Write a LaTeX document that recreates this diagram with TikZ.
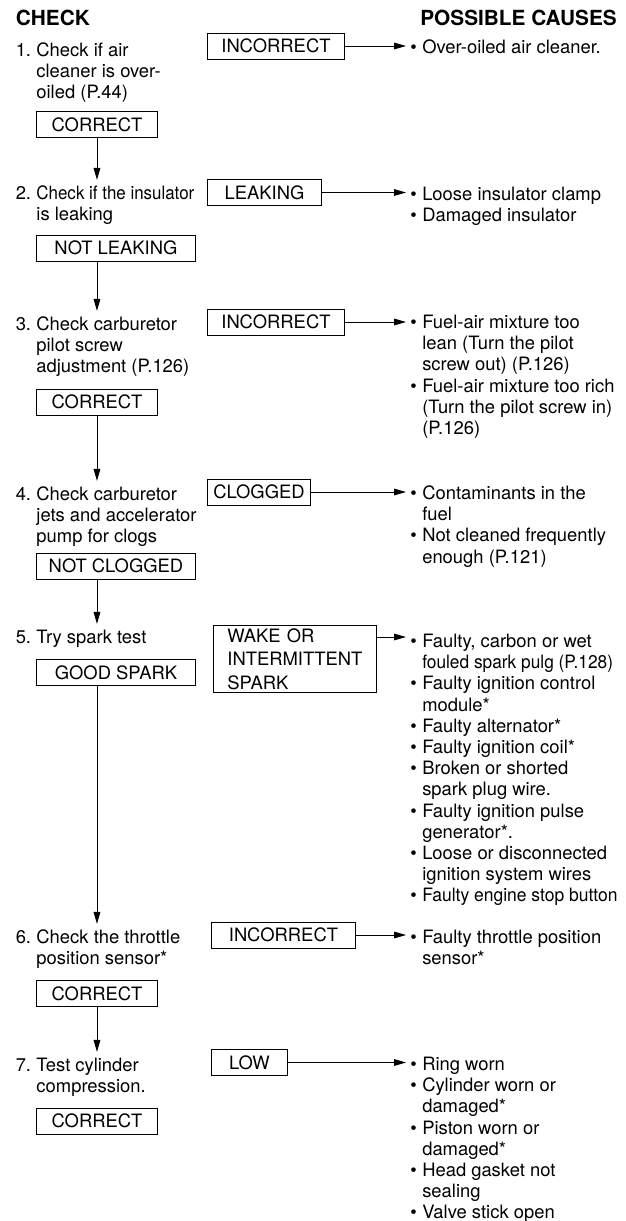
\documentclass[tikz,border=0pt]{standalone}
\usepackage{fontspec}
\setmainfont{TeX Gyre Heros}
\usetikzlibrary{arrows.meta}
\newenvironment{steps}{\begin{tabular}[t]{@{}p{15.5pt}@{}l@{}}}{\end{tabular}}
\newenvironment{causes}{\begin{tabular}[t]{@{}p{9pt}@{}l@{}}}{\end{tabular}}
\newcommand{\squeeze}[2]{\scalebox{#1}[1]{#2}}

\begin{document}
\begin{tikzpicture}[x=0.75pt,y=-0.75pt,
  every node/.style={font=\fontsize{13.8}{15.9}\selectfont,inner sep=0pt},
  head/.style={font=\fontsize{15.6}{18}\selectfont\bfseries},
  chk/.style={anchor=base west},
  res/.style={draw,line width=0.7pt,anchor=west,minimum height=19.5pt},
  flow/.style={-{Triangle[length=9pt,width=5pt]},line width=0.7pt,shorten >=3pt}]
\fill[white] (0,0) rectangle (625,1221);
\useasboundingbox (0,0) rectangle (625,1221);
\node[head,anchor=base west] (hcheck) at (15.5,25.5) {CHECK};
\node[head,anchor=base east] (hcause) at (617,25.5) {POSSIBLE CAUSES};
% 1
\node[chk] (chk1) at (15.5,56) {\begin{steps}1. & Check if air\\ & cleaner is over-\\ & oiled (P.44)\end{steps}};
\node[res,minimum width=90.75pt] (ok1) at (36,124.5) {CORRECT};
\node[res,minimum width=102.75pt] (bad1) at (207,46) {INCORRECT};
\node[chk] (why1) at (410,53) {\begin{causes}\textbullet & Over-oiled air cleaner.\end{causes}};
\coordinate (spine) at (ok1.south);
% 2
\node[chk] (chk2) at (15.5,199) {\begin{steps}2. & \squeeze{0.92}{Check if the insulator}\\ & is leaking\end{steps}};
\node[res,minimum width=119.25pt] (ok2) at (36,248) {NOT LEAKING};
\node[res,minimum width=85.5pt] (bad2) at (207,192.5) {LEAKING};
\node[chk] (why2) at (410,200.5) {\begin{causes}\textbullet & Loose insulator clamp\\ \textbullet & Damaged insulator\end{causes}};
% 3
\node[chk] (chk3) at (15.5,330) {\begin{steps}3. & Check carburetor\\ & pilot screw\\ & adjustment (P.126)\end{steps}};
\node[res,minimum width=90.75pt] (ok3) at (36,402) {CORRECT};
\node[res,minimum width=102.75pt] (bad3) at (207,322) {INCORRECT};
\node[chk] (why3) at (410,328.5) {\begin{causes}\textbullet & Fuel-air mixture too\\ & lean (Turn the pilot\\ & screw out) (P.126)\\
  \textbullet & Fuel-air mixture too rich\\ & (Turn the pilot screw in)\\ & (P.126)\end{causes}};
% 4
\node[chk] (chk4) at (15.5,500) {\begin{steps}4. & Check carburetor\\ & jets and accelerator\\ & pump for clogs\end{steps}};
\node[res,minimum width=119.25pt] (ok4) at (36,566) {NOT CLOGGED};
\node[res,minimum width=77.25pt] (bad4) at (207,492) {CLOGGED};
\node[chk] (why4) at (410,499.5) {\begin{causes}\textbullet & Contaminants in the\\ & fuel\\ \textbullet & Not cleaned frequently\\ & enough (P.121)\end{causes}};
% 5
\node[chk] (chk5) at (15.5,643) {\begin{steps}5. & Try spark test\end{steps}};
\node[res,minimum width=119.25pt] (ok5) at (36,672.5) {GOOD SPARK};
\node[res,anchor=north west,minimum width=122.25pt,minimum height=50.25pt,text width=101.25pt,inner xsep=10.5pt,align=left,
  font=\fontsize{13.8}{17.6}\selectfont] (bad5) at (213,625) {WAKE OR\\INTERMITTENT\\SPARK};
\node[chk] (why5) at (410,647.5) {\begin{causes}\textbullet & Faulty, carbon or wet\\ & \squeeze{0.94}{fouled spark pulg (P.128)}\\
  \textbullet & Faulty ignition control\\ & module*\\ \textbullet & Faulty alternator*\\ \textbullet & Faulty ignition coil*\\
  \textbullet & Broken or shorted\\ & spark plug wire.\\ \textbullet & Faulty ignition pulse\\ & generator*.\\
  \textbullet & Loose or disconnected\\ & ignition system wires\\ \textbullet & \squeeze{0.95}{Faulty engine stop button}\end{causes}};
\coordinate (out5) at ([yshift=-9pt]bad5.north east);
% 6
\node[chk] (chk6) at (15.5,943) {\begin{steps}6. & Check the throttle\\ & position sensor*\end{steps}};
\node[res,minimum width=90.75pt] (ok6) at (36,993.5) {CORRECT};
\node[res,minimum width=108pt] (bad6) at (211,935) {INCORRECT};
\node[chk] (why6) at (410,943.5) {\begin{causes}\textbullet & Faulty throttle position\\ & sensor*\end{causes}};
% 7
\node[chk] (chk7) at (15.5,1071) {\begin{steps}7. & Test cylinder\\ & compression.\end{steps}};
\node[res,minimum width=90.75pt] (ok7) at (36,1121) {CORRECT};
\node[res,minimum width=57pt] (bad7) at (211,1062.5) {LOW};
\node[chk] (why7) at (410,1070.5) {\begin{causes}\textbullet & Ring worn\\ \textbullet & Cylinder worn or\\ & damaged*\\
  \textbullet & Piston worn or\\ & damaged*\\ \textbullet & Head gasket not\\ & sealing\\ \textbullet & Valve stick open\end{causes}};
% connectors
\draw[flow] (ok1.south) -- (chk2.north -| spine);
\draw[flow] (ok2.south -| spine) -- (chk3.north -| spine);
\draw[flow] (ok3.south) -- (chk4.north -| spine);
\draw[flow] (ok4.south -| spine) -- (chk5.north -| spine);
\draw[flow] (ok5.south -| spine) -- (chk6.north -| spine);
\draw[flow] (ok6.south) -- (chk7.north -| spine);
\draw[flow] (bad1.east) -- (bad1.east -| why1.west);
\draw[flow] (bad2.east) -- (bad2.east -| why2.west);
\draw[flow] (bad3.east) -- (bad3.east -| why3.west);
\draw[flow] (bad4.east) -- (bad4.east -| why4.west);
\draw[flow] (out5) -- (out5 -| why5.west);
\draw[flow] (bad6.east) -- (bad6.east -| why6.west);
\draw[flow] (bad7.east) -- (bad7.east -| why7.west);
\end{tikzpicture}
\end{document}
